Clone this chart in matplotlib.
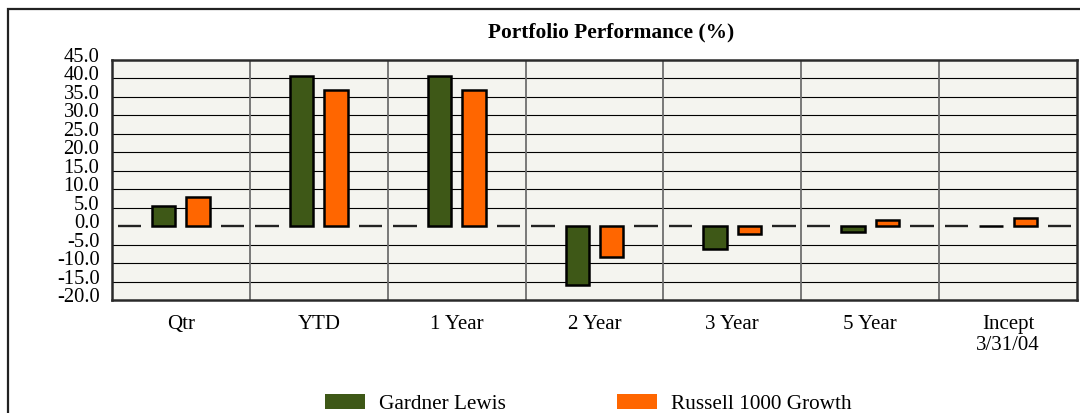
import matplotlib
matplotlib.use('Agg')
import matplotlib.pyplot as plt
import matplotlib.transforms as mtransforms
from matplotlib.patches import Rectangle, Patch
import numpy as np

# data
categories = ['Qtr', 'YTD', '1 Year', '2 Year', '3 Year', '5 Year', 'Incept\n3/31/04']
gardner_lewis = [5.5, 40.8, 40.8, -15.9, -6.1, -1.6, 0.1]
russell_1000 = [7.9, 36.9, 36.9, -8.3, -2.1, 1.7, 2.3]
series_names = ['Gardner Lewis', 'Russell 1000 Growth']
yticks = [-20, -15, -10, -5, 0, 5, 10, 15, 20, 25, 30, 35, 40, 45]

GREEN = '#3e5817'
ORANGE = '#ff6600'
BG = '#f4f4ef'


def plot_chart():
    plt.rcParams['font.family'] = ['Liberation Serif', 'DejaVu Serif']
    fig = plt.figure(figsize=(10.8, 4.13), dpi=100)
    ax = fig.add_axes([112 / 1080, 113 / 413, 965 / 1080, 240 / 413])
    ax.set_facecolor(BG)

    x = np.arange(len(categories))
    slot = 0.25
    bw = 0.17
    zeros = [0] * len(categories)
    # empty outer slots -> short dashes on the zero line, like the original
    ax.bar(x - 1.5 * slot, zeros, bw, edgecolor='#222222', linewidth=1.7, zorder=3)
    ax.bar(x + 1.5 * slot, zeros, bw, edgecolor='#222222', linewidth=1.7, zorder=3)
    ax.bar(x - 0.5 * slot, gardner_lewis, bw, color=GREEN, edgecolor='black', linewidth=1.8, zorder=3)
    ax.bar(x + 0.5 * slot, russell_1000, bw, color=ORANGE, edgecolor='black', linewidth=1.8, zorder=3)

    ax.set_xlim(-0.5, len(categories) - 0.5)
    ax.set_ylim(-20, 45)

    ax.set_yticks(yticks)
    ax.set_yticklabels(['%.1f' % v for v in yticks], fontsize=14.8)
    ax.set_xticks(x)
    ax.set_xticklabels(categories, fontsize=15, linespacing=1.1)
    ax.tick_params(axis='both', length=0)
    ax.tick_params(axis='y', pad=9)
    ax.tick_params(axis='x', pad=11)
    # labels sit a little above their gridlines
    off = mtransforms.ScaledTranslation(0, 5 / 100, fig.dpi_scale_trans)
    for lab in ax.get_yticklabels():
        lab.set_transform(lab.get_transform() + off)

    # horizontal grid (no line at zero), vertical lines between groups
    for v in yticks:
        if v != 0 and v != 45 and v != -20:
            ax.axhline(v, color='black', linewidth=0.8, zorder=1)
    for b in np.arange(0.5, len(categories) - 0.5, 1):
        ax.axvline(b, color='#6e6e6e', linewidth=1.3, zorder=1)

    for s in ax.spines.values():
        s.set_color('#2a2a2a')
        s.set_linewidth(1.8)

    fig.text(611 / 1080, 1 - 32 / 413, 'Portfolio Performance (%)', ha='center', va='center',
             fontsize=15.4, fontweight='bold')

    handles = [Patch(facecolor=GREEN), Patch(facecolor=ORANGE)]
    fig.legend(handles, series_names, loc='center left', bbox_to_anchor=(325 / 1080, 9 / 413),
               ncol=2, frameon=False, fontsize=15.3, handlelength=1.88, handleheight=0.66,
               handletextpad=0.67, columnspacing=5.2, borderpad=0, borderaxespad=0)

    # outer frame, runs off the right and bottom edges
    fig.patches.append(Rectangle((8 / 1080, -0.05), 1.1, 1 - 9 / 413 + 0.05,
                                 transform=fig.transFigure, fill=False,
                                 edgecolor='#222222', linewidth=1.6))

    fig.savefig('out.png', dpi=100, facecolor='white')


def main():
    plot_chart()


if __name__ == "__main__":
    main()
